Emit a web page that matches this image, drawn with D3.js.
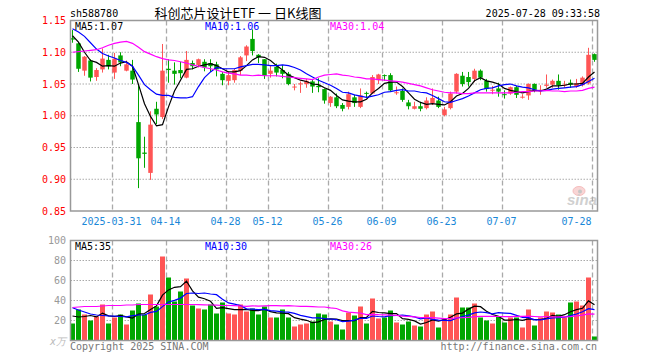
<!DOCTYPE html>
<html lang="zh">
<head>
<meta charset="UTF-8">
<title>科创芯片设计ETF 日K线图</title>
<script src="https://d3js.org/d3.v7.min.js"></script>
<style>
  body { margin: 0; background: #fff; }
  svg text { font-family: "DejaVu Sans Mono", "Liberation Mono", monospace; font-size: 10px; }
</style>
</head>
<body>
<svg id="chart" width="660" height="360"></svg>
<script>
// trading days shown (2025)
const dates = ["03-20","03-21","03-24","03-25","03-26","03-27","03-28","03-31",
  "04-01","04-02","04-03","04-07","04-08","04-09","04-10","04-11","04-14","04-15","04-16","04-17",
  "04-18","04-21","04-22","04-23","04-24","04-25","04-28","04-29","04-30",
  "05-06","05-07","05-08","05-09","05-12","05-13","05-14","05-15","05-16","05-19","05-20",
  "05-21","05-22","05-23","05-26","05-27","05-28","05-29","05-30",
  "06-03","06-04","06-05","06-06","06-09","06-10","06-11","06-12","06-13","06-16","06-17",
  "06-18","06-19","06-20","06-23","06-24","06-25","06-26","06-27","06-30",
  "07-01","07-02","07-03","07-04","07-07","07-08","07-09","07-10","07-11","07-14","07-15",
  "07-16","07-17","07-18","07-21","07-22","07-23","07-24","07-25","07-28"];

const open = [1.122,1.114,1.071,1.087,1.061,1.073,1.088,1.068,1.095,1.071,
  1.071,0.990,0.942,0.910,1.011,0.998,1.074,1.071,1.072,1.060,
  1.083,1.080,1.085,1.083,1.081,1.066,1.055,1.056,1.071,1.095,
  1.121,1.096,1.089,1.066,1.077,1.072,1.066,1.045,1.050,1.050,
  1.054,1.047,1.042,1.020,1.029,1.017,1.014,1.029,1.014,1.036,
  1.035,1.056,1.064,1.064,1.036,1.039,1.021,1.011,1.015,1.012,
  1.020,1.024,1.001,1.012,1.038,1.063,1.061,1.058,1.071,1.055,
  1.040,1.043,1.034,1.035,1.045,1.029,1.032,1.050,1.040,1.047,
  1.049,1.055,1.048,1.052,1.046,1.048,1.051,1.097];

const high = [1.135,1.116,1.094,1.089,1.075,1.106,1.096,1.099,1.100,1.087,
  1.088,1.050,0.967,1.007,1.022,1.113,1.089,1.084,1.085,1.102,
  1.087,1.090,1.089,1.089,1.085,1.069,1.070,1.074,1.094,1.111,
  1.136,1.097,1.089,1.080,1.082,1.080,1.069,1.050,1.054,1.058,
  1.058,1.059,1.043,1.031,1.035,1.020,1.038,1.033,1.043,1.038,
  1.064,1.066,1.065,1.067,1.046,1.043,1.025,1.022,1.022,1.029,
  1.043,1.030,1.014,1.038,1.067,1.069,1.069,1.074,1.073,1.058,
  1.047,1.052,1.040,1.046,1.047,1.034,1.051,1.051,1.048,1.065,
  1.057,1.065,1.055,1.057,1.058,1.062,1.107,1.098];

const low = [1.115,1.069,1.063,1.054,1.055,1.068,1.073,1.058,1.078,1.070,
  1.050,0.886,0.918,0.899,0.987,0.995,1.052,1.049,1.059,1.059,
  1.073,1.076,1.070,1.069,1.062,1.048,1.048,1.052,1.064,1.086,
  1.095,1.083,1.058,1.060,1.062,1.059,1.048,1.040,1.036,1.044,
  1.036,1.037,1.019,1.014,1.012,1.007,1.010,1.014,1.012,1.028,
  1.034,1.050,1.055,1.038,1.033,1.022,1.010,1.010,1.007,1.010,
  1.017,1.012,0.999,1.010,1.035,1.046,1.046,1.053,1.056,1.038,
  1.034,1.030,1.027,1.033,1.028,1.027,1.025,1.037,1.033,1.044,
  1.044,1.041,1.044,1.044,1.044,1.046,1.049,1.085];

const close = [1.120,1.074,1.093,1.060,1.072,1.090,1.078,1.090,1.084,1.081,
  1.057,0.933,0.940,0.986,1.002,1.071,1.072,1.066,1.067,1.088,
  1.078,1.089,1.076,1.078,1.073,1.056,1.064,1.072,1.092,1.109,
  1.102,1.092,1.063,1.071,1.068,1.066,1.050,1.046,1.051,1.055,
  1.046,1.045,1.024,1.030,1.015,1.011,1.034,1.020,1.032,1.035,
  1.061,1.065,1.063,1.040,1.037,1.025,1.015,1.015,1.011,1.024,
  1.028,1.014,1.010,1.035,1.066,1.050,1.053,1.071,1.060,1.042,
  1.041,1.038,1.033,1.045,1.033,1.030,1.050,1.041,1.041,1.049,
  1.055,1.048,1.049,1.049,1.051,1.060,1.096,1.088];

// volume, 万手
const volume = [17,31,26,20,24,36,17,23,26,16,
  30,37,26,46,34,84,63,39,49,62,
  35,32,31,36,27,38,27,26,36,29,
  32,26,34,23,23,31,23,14,16,17,
  19,27,26,19,16,11,28,25,34,17,
  42,22,23,30,18,16,19,15,14,26,
  29,13,22,26,43,33,33,37,23,20,
  17,24,18,23,23,13,31,15,23,29,
  28,26,23,38,39,35,63,4];

const ma5 = [1.126,1.116,1.100,1.087,1.084,1.078,1.079,1.078,1.083,1.085,
  1.078,1.049,1.019,0.999,0.984,0.986,1.014,1.039,1.056,1.073,
  1.074,1.078,1.080,1.082,1.079,1.074,1.069,1.069,1.071,1.079,
  1.088,1.093,1.092,1.087,1.079,1.072,1.064,1.060,1.056,1.054,
  1.050,1.049,1.044,1.040,1.032,1.025,1.023,1.022,1.022,1.026,
  1.036,1.043,1.051,1.053,1.053,1.046,1.036,1.026,1.021,1.018,
  1.019,1.018,1.017,1.022,1.031,1.035,1.043,1.055,1.060,1.055,
  1.053,1.050,1.043,1.040,1.038,1.036,1.038,1.040,1.039,1.042,
  1.047,1.047,1.048,1.050,1.050,1.051,1.061,1.069];

const ma10 = [1.137,1.132,1.125,1.115,1.105,1.098,1.094,1.091,1.087,1.084,
  1.078,1.064,1.049,1.041,1.034,1.032,1.032,1.029,1.028,1.028,
  1.030,1.046,1.060,1.069,1.076,1.074,1.074,1.074,1.077,1.079,
  1.081,1.081,1.080,1.079,1.079,1.080,1.079,1.076,1.072,1.066,
  1.061,1.056,1.052,1.048,1.043,1.037,1.036,1.033,1.031,1.029,
  1.031,1.033,1.037,1.038,1.040,1.041,1.039,1.039,1.037,1.036,
  1.032,1.027,1.022,1.021,1.024,1.027,1.031,1.036,1.041,1.043,
  1.044,1.047,1.049,1.050,1.047,1.045,1.044,1.041,1.039,1.040,
  1.042,1.043,1.044,1.045,1.046,1.049,1.054,1.059];

const ma30 = [1.100,1.101,1.102,1.103,1.104,1.107,1.111,1.114,1.116,1.117,
  1.114,1.108,1.101,1.097,1.093,1.090,1.088,1.087,1.085,1.083,
  1.080,1.078,1.076,1.074,1.072,1.069,1.067,1.066,1.064,1.064,
  1.063,1.064,1.063,1.063,1.063,1.062,1.061,1.060,1.059,1.058,
  1.057,1.061,1.064,1.065,1.066,1.064,1.063,1.061,1.060,1.058,
  1.058,1.057,1.056,1.055,1.054,1.053,1.051,1.049,1.047,1.044,
  1.041,1.039,1.037,1.036,1.036,1.035,1.035,1.036,1.036,1.036,
  1.036,1.036,1.036,1.036,1.037,1.038,1.038,1.039,1.039,1.040,
  1.039,1.039,1.038,1.039,1.039,1.040,1.043,1.045];

const volMa5 = [24.5,23.5,24,25,23.6,27.4,24.6,24,25.2,23.6,
  22.4,26.4,27,31,34.6,45.4,50.6,53.2,53.8,59.4,
  49.6,43.4,41.8,39.2,32.2,32.8,31.8,30.8,30.8,31.2,
  30,29.8,31.4,28.8,27.6,27.4,26.8,22.8,21.4,20.2,
  17.8,18.6,21,21.6,21.4,19.8,20,19.8,22.8,23,
  29.2,28,27.6,26.8,27,21.8,21.2,19.6,16.4,18,
  20.6,19.4,20.8,23.2,26.6,27.4,31.4,34.4,33.8,29.2,
  26,24.2,20.4,20.4,21,20.2,21.6,21,21,22.2,
  25.2,24.2,25.8,28.8,30.8,32.2,39.6,35.8];

const volMa10 = [32.7,30.5,28.5,26.5,25.5,25,24.6,24.4,24,23.6,
  24.9,25.5,25.5,28.1,29.1,33.9,38.5,40.1,42.4,47,
  47.5,47,47.5,46.5,45.8,41.2,37.6,36.3,35,31.7,
  31.4,30.8,31.1,29.8,29.4,28.7,28.3,27.1,25.1,23.9,
  22.6,22.7,21.9,21.5,20.8,18.8,19.3,20.4,22.2,22.2,
  24.5,24,23.7,24.8,25,25.5,24.6,23.6,21.6,22.5,
  21.2,20.3,20.2,19.8,22.3,24,25.4,27.6,28.5,27.9,
  26.7,27.8,27.4,27.1,25.1,23.1,22.9,20.7,20.7,21.6,
  22.7,22.9,23.4,24.9,26.5,28.7,31.9,30.8];

const volMa30 = [33,33.5,34,34,34,34.5,35,35,35,35.5,
  35.5,36,36,36,36,36,36,36,36,36,
  36,35.8,35.6,35.5,35.3,35,35,34.8,34.5,34.1,
  34.6,34.4,34.7,34.8,34.8,34.6,34.8,34.5,34.2,34.2,
  33.8,33.5,33.5,32.6,32,29.6,28.4,27.9,27.4,25.9,
  26.2,25.8,25.6,25.4,25.1,24.3,24.1,23.7,23,22.9,
  22.8,22.3,21.9,22,22.7,22.8,23.1,23.9,24.1,24.2,
  24.1,24,23.8,23.9,24.1,24.2,24.3,24,23.6,24,
  23.5,23.7,23.7,23.9,24.6,25.3,26.7,26.4];

const priceTicks = [0.85, 0.90, 0.95, 1.00, 1.05, 1.10, 1.15];
const volTicks = [20, 40, 60, 80, 100];
const dateTicks = ["03-31","04-14","04-28","05-12","05-26","06-09","06-23","07-07","07-28"];
const dateTickLabels = ["2025-03-31","04-14","04-28","05-12","05-26","06-09","06-23","07-07","07-28"];

const upColor = "#ff5555", downColor = "#00a600", gridColor = "#aaaaaa", frameColor = "#999999";
const left = 70.5, right = 597.5;

const svg = d3.select("#chart");

const x = d3.scaleBand().domain(dates).range([69.5, 597.5]);
const cx = d => x(d) + x.bandwidth() / 2;
const y = d3.scaleLinear().domain([0.85, 1.15]).range([211, 20.5]);
const yv = d3.scaleLinear().domain([0, 100]).range([340.5, 240.5]);

// clip areas
const defs = svg.append("defs");
defs.append("clipPath").attr("id", "clipPrice").append("rect")
  .attr("x", left).attr("y", 20.5).attr("width", right - left).attr("height", 190.5);
defs.append("clipPath").attr("id", "clipVol").append("rect")
  .attr("x", left).attr("y", 240.5).attr("width", right - left).attr("height", 100);

// ---- header
svg.append("text").attr("x", 70).attr("y", 17).attr("fill", "#000").text("sh588780");
svg.append("text").attr("x", 238).attr("y", 17.5).attr("text-anchor", "middle")
  .style("font-family", "'Noto Sans CJK SC', sans-serif").style("font-size", "13px")
  .attr("fill", "#000").text("科创芯片设计ETF 一 日K线图");
svg.append("text").attr("x", 600).attr("y", 17).attr("text-anchor", "end")
  .attr("fill", "#000").text("2025-07-28 09:33:58");

// ---- grids
const grid = svg.append("g");
grid.selectAll(".hp").data(priceTicks.slice(1, -1)).join("line")
  .attr("x1", left).attr("x2", right).attr("y1", d => y(d)).attr("y2", d => y(d))
  .attr("stroke", gridColor).attr("stroke-dasharray", "1.5,1.5");
grid.selectAll(".hv").data(volTicks.slice(0, -1)).join("line").attr("class", "hv")
  .attr("x1", left).attr("x2", right).attr("y1", d => yv(d)).attr("y2", d => yv(d))
  .attr("stroke", gridColor).attr("stroke-dasharray", "1.5,1.5");
[[20.5, 211], [240.5, 340.5]].forEach(([t, b]) => {
  grid.append("g").selectAll("line").data(dateTicks).join("line")
    .attr("x1", d => x(d) + 1).attr("x2", d => x(d) + 1)
    .attr("y1", t).attr("y2", b)
    .attr("stroke", gridColor).attr("stroke-width", 1.3).attr("stroke-dasharray", "5,3");
});

// ---- candles
const candles = svg.append("g").attr("clip-path", "url(#clipPrice)");
const col = i => close[i] >= open[i] ? upColor : downColor;
candles.selectAll("line").data(dates).join("line")
  .attr("x1", d => cx(d)).attr("x2", d => cx(d))
  .attr("y1", (d, i) => y(high[i])).attr("y2", (d, i) => y(low[i]))
  .attr("stroke", (d, i) => col(i));
candles.selectAll("rect").data(dates).join("rect")
  .attr("x", d => cx(d) - 2.25).attr("width", 4.5)
  .attr("y", (d, i) => y(Math.max(open[i], close[i])))
  .attr("height", (d, i) => Math.max(1, Math.abs(y(open[i]) - y(close[i]))))
  .attr("fill", (d, i) => col(i));

// ---- volume bars
const bars = svg.append("g").attr("clip-path", "url(#clipVol)");
bars.selectAll("rect").data(dates).join("rect")
  .attr("x", d => cx(d) - 2.5).attr("width", 5)
  .attr("y", (d, i) => yv(volume[i]))
  .attr("height", (d, i) => yv(0) - yv(volume[i]))
  .attr("fill", (d, i) => col(i));

// ---- moving averages
const maColors = ["#000000", "#0000ff", "#ff00ff"];
const drawLines = (g, series, scale) => {
  series.forEach((s, k) => {
    g.append("path").datum(s)
      .attr("fill", "none").attr("stroke", maColors[k]).attr("stroke-width", 1.2)
      .attr("d", d3.line().x((d, i) => cx(dates[i])).y(d => scale(d)));
  });
};
drawLines(svg.append("g").attr("clip-path", "url(#clipPrice)"), [ma5, ma10, ma30], y);
drawLines(svg.append("g").attr("clip-path", "url(#clipVol)"), [volMa5, volMa10, volMa30], yv);

// ---- legends
const last = a => a[a.length - 1];
const legend = (yy, labels) => {
  [75, 205, 330].forEach((xx, k) => {
    svg.append("text").attr("x", xx).attr("y", yy).attr("fill", maColors[k]).text(labels[k]);
  });
};
legend(30, ["MA5:" + last(ma5).toFixed(2), "MA10:" + last(ma10).toFixed(2), "MA30:" + last(ma30).toFixed(2)]);
legend(250, ["MA5:" + Math.floor(last(volMa5)), "MA10:" + Math.floor(last(volMa10)), "MA30:" + Math.floor(last(volMa30))]);

// ---- axes
const yAxis = svg.append("g").attr("transform", "translate(70,0)")
  .call(d3.axisLeft(y).tickValues(priceTicks).tickFormat(d3.format(".2f")).tickSize(0).tickPadding(4));
yAxis.select(".domain").remove();
yAxis.selectAll("text").attr("fill", "#ff0000").style("font-family", "'DejaVu Sans Mono', monospace").style("font-size", "10px");

const vAxis = svg.append("g").attr("transform", "translate(70,0)")
  .call(d3.axisLeft(yv).tickValues(volTicks).tickSize(0).tickPadding(4));
vAxis.select(".domain").remove();
vAxis.selectAll("text").attr("fill", "#999").style("font-family", "'DejaVu Sans Mono', monospace").style("font-size", "10px");

svg.append("g").selectAll("text").data(dateTicks).join("text")
  .attr("x", (d, i) => i === dateTicks.length - 1 ? x(d) : x(d))
  .attr("y", 225)
  .attr("text-anchor", (d, i) => i === dateTicks.length - 1 ? "end" : "middle")
  .attr("fill", "#1a88d8")
  .text((d, i) => dateTickLabels[i]);

// ---- frames
svg.append("rect").attr("x", left).attr("y", 20.5).attr("width", right - left).attr("height", 190.5)
  .attr("fill", "none").attr("stroke", frameColor).attr("stroke-width", 1.5);
svg.append("rect").attr("x", left).attr("y", 240.5).attr("width", right - left).attr("height", 100)
  .attr("fill", "none").attr("stroke", frameColor).attr("stroke-width", 1.5);

// ---- watermark
const wm = svg.append("g").attr("opacity", 0.55);
wm.append("ellipse").attr("cx", 579).attr("cy", 191).attr("rx", 6).attr("ry", 4.5)
  .attr("fill", "#f4b4b4").attr("stroke", "#e88").attr("stroke-width", 1);
wm.append("circle").attr("cx", 580).attr("cy", 191.5).attr("r", 2).attr("fill", "#999");
wm.append("text").attr("x", 597).attr("y", 205).attr("text-anchor", "end")
  .style("font-family", "'Liberation Sans', sans-serif").style("font-style", "italic")
  .style("font-weight", "bold").style("font-size", "15px").attr("fill", "#aaa").text("sina");

// ---- footer
svg.append("text").attr("x", 50).attr("y", 345).attr("fill", "#bbb").style("font-style", "italic").text("x万");
svg.append("text").attr("x", 70).attr("y", 350).attr("fill", "#777").text("Copyright 2025 SINA.COM");
svg.append("text").attr("x", 597).attr("y", 350).attr("text-anchor", "end").attr("fill", "#777").text("http://finance.sina.com.cn");
</script>
</body>
</html>
